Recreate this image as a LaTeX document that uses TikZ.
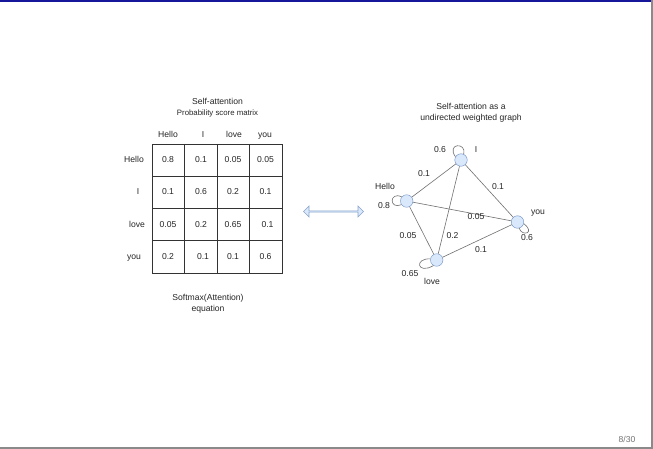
\documentclass[tikz,border=0pt]{standalone}
\usepackage{fontspec}
\setmainfont{Liberation Sans}
\usetikzlibrary{shapes.arrows}
\definecolor{nodefill}{HTML}{DAE8FC}
\definecolor{nodeline}{HTML}{6C8EBF}
\definecolor{edgecol}{HTML}{707070}
\definecolor{gridcol}{HTML}{333333}
\definecolor{navy}{HTML}{16169A}
\definecolor{framegray}{HTML}{8A8A8A}
\tikzset{
  txt/.style={inner sep=0pt, font=\fontsize{8.6}{10}\selectfont, text=black!85, text height=6.3pt, text depth=1.6pt},
  small/.style={inner sep=0pt, font=\fontsize{7.8}{9}\selectfont, text=black!85, text height=5.8pt, text depth=1.5pt},
  gnode/.style={circle, draw=nodeline, fill=nodefill, minimum size=12.5pt, inner sep=0pt},
  gedge/.style={draw=edgecol, line width=0.6pt},
  gloop/.style={draw=edgecol, line width=0.6pt},
  gridline/.style={draw=gridcol, line width=0.7pt}
}
\begin{document}
\begin{tikzpicture}[x=1pt,y=-1pt]
\useasboundingbox (0,0) rectangle (653,449);
\fill[white] (0,0) rectangle (653,449);
% frame
\fill[navy] (0,0) rectangle (653,2.2);
\fill[framegray] (651,0) rectangle (653,449);
\fill[framegray] (0,447) rectangle (653,449);
\node[txt, text=black!55] (page) at (627,440) {8/30};

% ----- matrix -----
\node[txt] (t1) at (217.5,102) {Self-attention};
\node[small] (t2) at (217.5,113) {Probability score matrix};
\draw[gridline] (152,144) rectangle (282,273);
\foreach \x in {184.5,217,249.5} \draw[gridline] (\x,144) -- (\x,273);
\foreach \y in {176.2,208.5,240.8} \draw[gridline] (152,\y) -- (282,\y);
\node[txt] (hHello) at (168,135) {Hello};
\node[txt] (hI) at (203,135) {I};
\node[txt] (hlove) at (234,135) {love};
\node[txt] (hyou) at (265,135) {you};
\node[txt] (rHello) at (134,160) {Hello};
\node[txt] (rI) at (138,192.5) {I};
\node[txt] (rlove) at (137,225) {love};
\node[txt] (ryou) at (134,257.5) {you};
% row 1
\node[txt] (c11) at (168,160) {0.8};
\node[txt] (c12) at (201,160) {0.1};
\node[txt] (c13) at (233,160) {0.05};
\node[txt] (c14) at (265.5,160) {0.05};
% row 2
\node[txt] (c21) at (168,192.5) {0.1};
\node[txt] (c22) at (201,192.5) {0.6};
\node[txt] (c23) at (233,192.5) {0.2};
\node[txt] (c24) at (265.5,192.5) {0.1};
% row 3
\node[txt] (c31) at (168,225) {0.05};
\node[txt] (c32) at (201,225) {0.2};
\node[txt] (c33) at (233,225) {0.65};
\node[txt] (c34) at (267.5,225) {0.1};
% row 4
\node[txt] (c41) at (168,257.5) {0.2};
\node[txt] (c42) at (203,257.5) {0.1};
\node[txt] (c43) at (233,257.5) {0.1};
\node[txt] (c44) at (265.5,257.5) {0.6};
\node[txt] (b1) at (208,298) {Softmax(Attention)};
\node[txt] (b2) at (208,309) {equation};

% ----- double arrow -----
\node[double arrow, draw=nodeline!80, fill=nodefill, line width=0.6pt,
      minimum height=60pt, minimum width=11pt, inner sep=0pt,
      double arrow head extend=2.5pt] (arr) at (333.5,211.5) {};

% ----- graph -----
\node[txt] (g1) at (471,107) {Self-attention as a};
\node[txt] (g2) at (471,118) {undirected weighted graph};
\node[gnode] (I) at (461,160) {};
\node[gnode] (Hello) at (406.7,201) {};
\node[gnode] (you) at (517.5,222) {};
\node[gnode] (love) at (436.7,260) {};
\draw[gedge] (I) -- (Hello);
\draw[gedge] (I) -- (you);
\draw[gedge] (I) -- (love);
\draw[gedge] (Hello) -- (you);
\draw[gedge] (Hello) -- (love);
\draw[gedge] (love) -- (you);
\draw[gloop] (I.150) .. controls (446,143) and (467,142) .. (I.65);
\draw[gloop] (Hello.140) .. controls (389,191) and (389,210) .. (Hello.215);
\draw[gloop] (you.285) .. controls (522,237) and (536,233) .. (you.345);
\draw[gloop] (love.170) .. controls (414,258) and (417,275) .. (love.240);
\node[txt] (l1) at (440,150) {0.6};
\node[txt] (l2) at (476,150) {I};
\node[txt] (l3) at (424,174) {0.1};
\node[txt] (l4) at (498,187) {0.1};
\node[txt] (l5) at (385,187) {Hello};
\node[txt] (l6) at (384,206) {0.8};
\node[txt] (l7) at (476,217) {0.05};
\node[txt] (l8) at (538,212) {you};
\node[txt] (l9) at (527,238) {0.6};
\node[txt] (l10) at (408,236) {0.05};
\node[txt] (l11) at (452.5,236) {0.2};
\node[txt] (l12) at (481,250) {0.1};
\node[txt] (l13) at (410,274) {0.65};
\node[txt] (l14) at (432,282) {love};
\end{tikzpicture}
\end{document}
